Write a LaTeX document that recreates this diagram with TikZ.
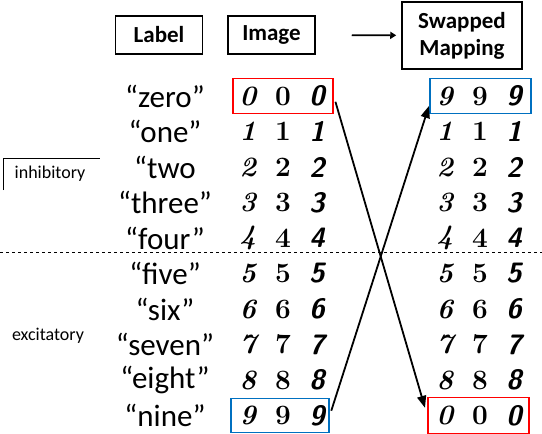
\documentclass[tikz,border=0pt]{standalone}
\usepackage{fontspec}
\newfontfamily\calibri{Carlito}
\usetikzlibrary{arrows.meta}

\begin{document}
\begin{tikzpicture}[x=1pt, y=-1pt]
    % Define row layout
    \def\rowTop{96}
    \def\rowGap{35.5}

    \definecolor{pickRed}{HTML}{FF0000}
    \definecolor{pickBlue}{HTML}{0070C0}

    \tikzset{
        head/.style={draw, line width=1.5pt, align=center, inner sep=0pt,
            font=\calibri\bfseries\fontsize{23}{27}\selectfont},
        word/.style={font=\calibri\fontsize{31}{31}\selectfont},
        side/.style={font=\calibri\fontsize{18}{18}\selectfont},
        digA/.style={inner sep=0pt, font=\fontsize{28}{28}\selectfont\bfseries\itshape},
        digB/.style={inner sep=0pt, font=\fontsize{28}{28}\selectfont\bfseries},
        digC/.style={inner sep=0pt, font=\fontsize{28}{28}\selectfont\sffamily\bfseries\itshape},
        pick/.style={draw=#1, line width=1.5pt, minimum height=35pt},
        swap/.style={line width=1.8pt, -{Triangle[length=12pt,width=9pt]}},
    }

    \useasboundingbox (0,0) rectangle (542,434);

    % Draw header boxes
    \node[head, minimum width=87pt, minimum height=38pt] (label) at (159,35) {Label};
    \node[head, minimum width=87pt, minimum height=38pt] (image) at (271.5,35) {Image};
    \node[head, minimum width=120pt, minimum height=67pt] (swapped) at (462,35.5) {Swapped\\Mapping};
    \draw[line width=1.8pt, -{Triangle[length=6pt,width=7pt]}, shorten <=36pt, shorten >=5pt] (image) -- (swapped);

    % Draw class words
    \foreach \w [count=\i from 0] in {“zero”,“one”,“two,“three”,“four”,“five”,“six”,“seven”,“eight”,“nine”}
        \node[word] (w\i) at (165,\rowTop+\i*\rowGap) {\w};

    % Draw digits, left as given and right with 0 and 9 swapped
    \foreach \i in {0,...,9} {
        \pgfmathtruncatemacro\j{\i==0 ? 9 : (\i==9 ? 0 : \i)}
        \foreach \c/\x/\s in {1/248/digA, 2/283/digB, 3/317/digC} {
            \node[\s] (l\i-\c) at (\x,\rowTop+\i*\rowGap) {\i};
            \node[\s] (r\i-\c) at (\x+197,\rowTop+\i*\rowGap) {\j};
        }
    }

    % Mark swapped rows
    \node[pick=pickRed, minimum width=100pt] (zeroL) at (283,\rowTop) {};
    \node[pick=pickBlue, minimum width=98pt, minimum height=34pt] (nineL) at (280,\rowTop+9*\rowGap) {};
    \node[pick=pickBlue, minimum width=101pt] (nineR) at (480.5,\rowTop) {};
    \node[pick=pickRed, minimum width=101pt, minimum height=36pt] (zeroR) at (478.5,\rowTop+9*\rowGap) {};

    % Split between inhibitory and excitatory
    \draw[dashed, thin] (0,252) -- (542,252);
    \node[side] (inhib) at (50,174) {inhibitory};
    \draw[thin] (3,190) -- (3,158) -- (100,158);
    \node[side] (excit) at (48,336) {excitatory};

    % Draw swap arrows
    \draw[swap, shorten <=6pt, shorten >=8pt] (zeroL.east) -- (zeroR.west);
    \draw[swap, shorten <=5pt, shorten >=1pt] (nineL.east) -- (nineR.190);

\end{tikzpicture}
\end{document}
